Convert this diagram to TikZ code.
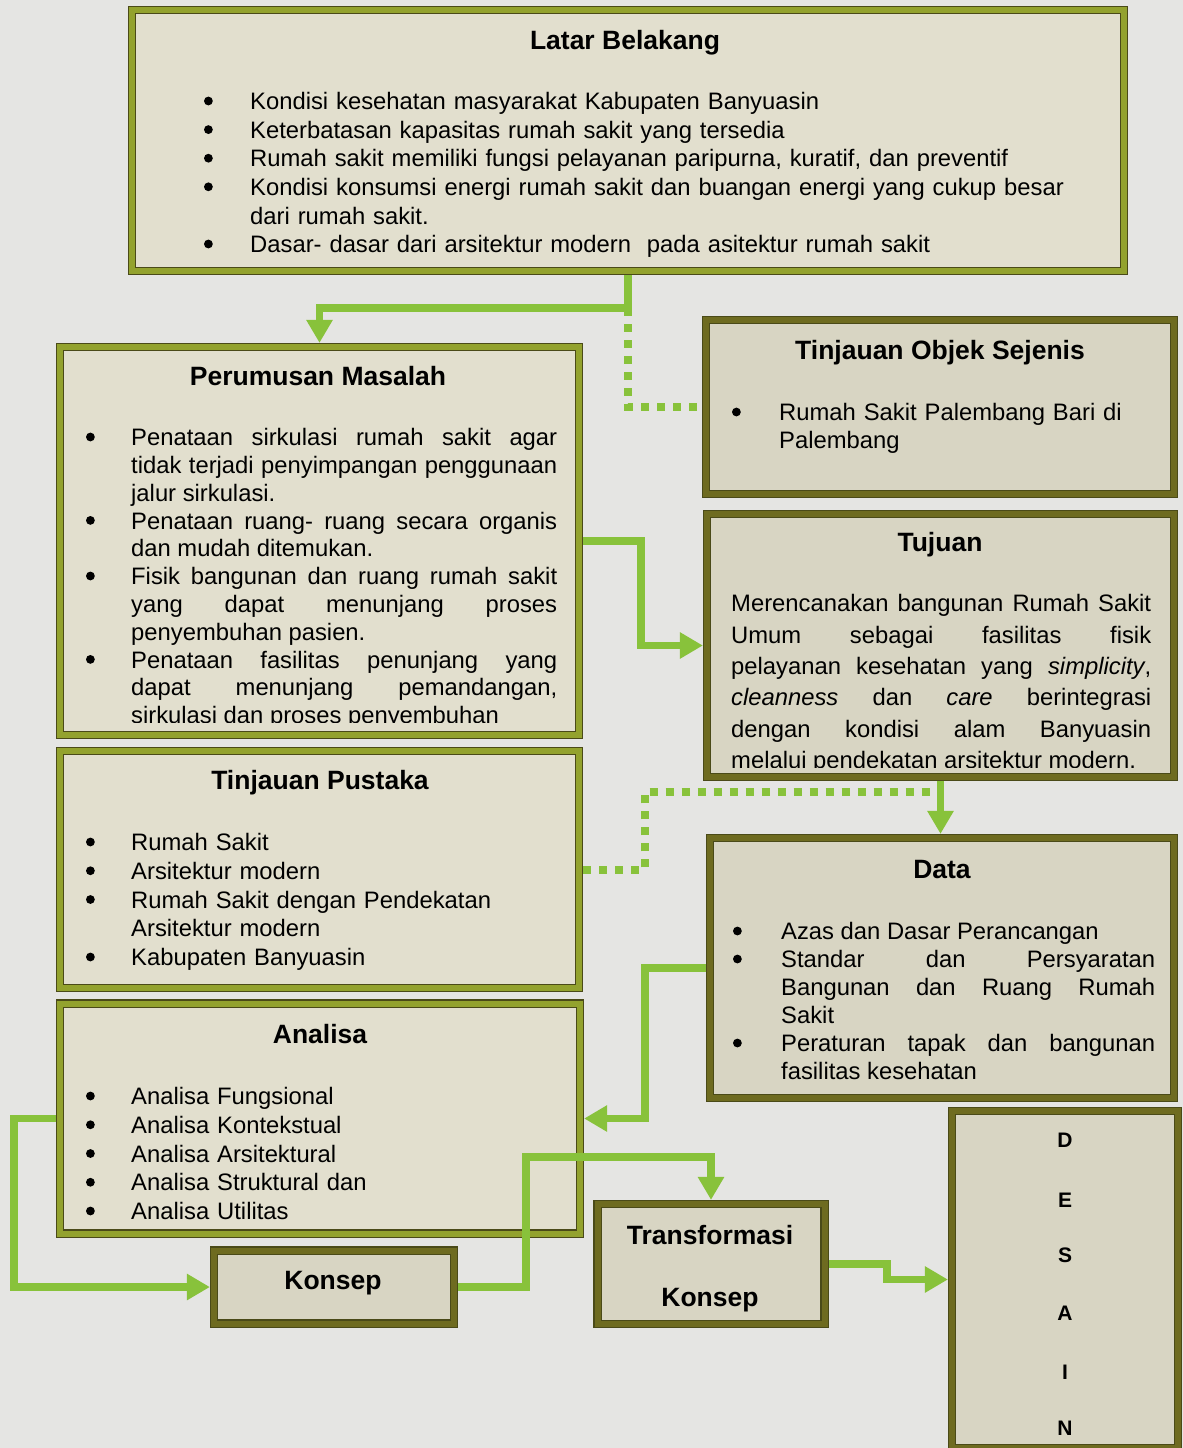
\documentclass[tikz,border=0pt]{standalone}
\usepackage{fontspec}
\setmainfont{Liberation Sans}
\usetikzlibrary{arrows.meta,calc}
\definecolor{bg}{HTML}{E5E5E3}
\definecolor{fillL}{HTML}{E2DFCE}
\definecolor{fillR}{HTML}{D8D5C3}
\definecolor{bandL}{HTML}{93A22E}
\definecolor{bandR}{HTML}{6E6B20}
\definecolor{edgeD}{HTML}{4A4A18}
\definecolor{lnk}{HTML}{88C23B}
\newcommand{\bdot}{\raisebox{8.6pt}{\tikz[baseline=0pt,x=1pt,y=1pt]\fill[black] (0,0) circle (4.4pt);}}
\newcommand{\bitem}[2]{\noindent\hangindent=#1\hangafter=1\makebox[#1][l]{\bdot}#2\par}
\tikzset{
  boxL/.style={draw=edgeD, line width=1.1pt, double=bandL, double distance=6pt, fill=fillL, outer sep=4.1pt, inner sep=0pt},
  boxR/.style={draw=edgeD, line width=1.1pt, double=bandR, double distance=6pt, fill=fillR, outer sep=4.1pt, inner sep=0pt},
  ttl/.style={anchor=base, inner sep=0pt, font=\bfseries\fontsize{26.5}{30}\selectfont},
  dsn/.style={anchor=base, inner sep=0pt, font=\bfseries\fontsize{21}{24}\selectfont},
  body/.style={anchor=base west, inner sep=0pt},
  conn/.style={draw=lnk, line width=7.5pt, -{Triangle[length=23pt,width=25pt]}},
  dotc/.style={draw=lnk, line width=8pt, dash pattern=on 8pt off 8pt}
}
\begin{document}
\begin{tikzpicture}[x=1pt,y=-1pt]
\useasboundingbox (0,0) rectangle (1183,1448);
\fill[bg] (0,0) rectangle (1183,1448);

% boxes
\node[boxL, minimum width=992pt, minimum height=261pt] (lat) at (628,140.5) {};
\node[boxL, minimum width=519pt, minimum height=388pt] (per) at (319.5,541) {};
\node[boxR, minimum width=468pt, minimum height=174pt] (tob) at (940,407) {};
\node[boxR, minimum width=467pt, minimum height=263pt] (tuj) at (940.5,645.5) {};
\node[boxL, minimum width=519pt, minimum height=237pt] (pus) at (319.5,869.5) {};
\node[boxR, minimum width=464pt, minimum height=260pt] (dat) at (942,968) {};
\node[boxL, minimum width=520pt, minimum height=230pt] (ana) at (320,1118.5) {};
\node[boxR, minimum width=240pt, minimum height=73pt] (kon) at (334,1287) {};
\node[boxR, minimum width=227pt, minimum height=120pt] (tra) at (711,1264) {};
\node[boxR, minimum width=226pt, minimum height=337pt] (des) at (1065,1279.5) {};

% Latar Belakang
\node[ttl] (latT) at (625,49.5) {Latar Belakang};
\node[body, text width=910pt, align=left, font=\fontsize{23.8}{28.6}\selectfont] (latB) at (203.8,109.6) {%
\bitem{46.2pt}{Kondisi kesehatan masyarakat Kabupaten Banyuasin}%
\bitem{46.2pt}{Keterbatasan kapasitas rumah sakit yang tersedia}%
\bitem{46.2pt}{Rumah sakit memiliki fungsi pelayanan paripurna, kuratif, dan preventif}%
\bitem{46.2pt}{Kondisi konsumsi energi rumah sakit dan buangan energi yang cukup besar\newline dari rumah sakit.}%
\bitem{46.2pt}{Dasar- dasar dari arsitektur modern\ \ pada asitektur rumah sakit}};

% Perumusan Masalah
\node[ttl] (perT) at (318,385.5) {Perumusan Masalah};
\begin{scope}
\clip (60,400) rectangle (580,722);
\node[body, text width=471.2pt, align=justify, font=\fontsize{23.8}{27.8}\selectfont] (perB) at (85.8,445.6) {%
\bitem{45.2pt}{Penataan sirkulasi rumah sakit agar\linebreak tidak terjadi penyimpangan penggunaan\linebreak jalur sirkulasi.}%
\bitem{45.2pt}{Penataan ruang- ruang secara organis\linebreak dan mudah ditemukan.}%
\bitem{45.2pt}{Fisik bangunan dan ruang rumah sakit\linebreak yang dapat menunjang proses\linebreak penyembuhan pasien.}%
\bitem{45.2pt}{Penataan fasilitas penunjang yang\linebreak dapat menunjang pemandangan,\linebreak sirkulasi dan proses penyembuhan}};
\end{scope}

% Tinjauan Objek Sejenis
\node[ttl] (tobT) at (940,359.5) {Tinjauan Objek Sejenis};
\node[body, text width=420pt, align=left, font=\fontsize{23.8}{28}\selectfont] (tobB) at (731.8,420.6) {%
\bitem{47.2pt}{Rumah Sakit Palembang Bari di\newline Palembang}};

% Tujuan
\node[ttl] (tujT) at (940,551.5) {Tujuan};
\begin{scope}
\clip (710,560) rectangle (1172,767);
\node[body, text width=420pt, align=justify, font=\fontsize{23.8}{31.4}\selectfont] (tujB) at (731,611.6) {%
Merencanakan bangunan Rumah Sakit\linebreak Umum sebagai fasilitas fisik\linebreak pelayanan kesehatan yang \textit{simplicity},\linebreak \textit{cleanness} dan \textit{care} berintegrasi\linebreak dengan kondisi alam Banyuasin\linebreak melalui pendekatan arsitektur modern.};
\end{scope}

% Tinjauan Pustaka
\node[ttl] (pusT) at (320,789.5) {Tinjauan Pustaka};
\node[body, text width=470pt, align=left, font=\fontsize{23.8}{28.75}\selectfont] (pusB) at (85.8,850.6) {%
\bitem{45.2pt}{Rumah Sakit}%
\bitem{45.2pt}{Arsitektur modern}%
\bitem{45.2pt}{Rumah Sakit dengan Pendekatan\newline Arsitektur modern}%
\bitem{45.2pt}{Kabupaten Banyuasin}};

% Data
\node[ttl] (datT) at (942,878.5) {Data};
\node[body, text width=422.2pt, align=justify, font=\fontsize{23.8}{28}\selectfont] (datB) at (732.8,939.6) {%
\bitem{48.2pt}{Azas dan Dasar Perancangan}%
\bitem{48.2pt}{Standar dan Persyaratan\linebreak Bangunan dan Ruang Rumah\linebreak Sakit}%
\bitem{48.2pt}{Peraturan tapak dan bangunan\linebreak fasilitas kesehatan}};

% Analisa
\node[ttl] (anaT) at (320,1043.5) {Analisa};
\node[body, text width=470pt, align=left, font=\fontsize{23.8}{28.75}\selectfont] (anaB) at (85.8,1104.6) {%
\bitem{45.2pt}{Analisa Fungsional}%
\bitem{45.2pt}{Analisa Kontekstual}%
\bitem{45.2pt}{Analisa Arsitektural}%
\bitem{45.2pt}{Analisa Struktural dan}%
\bitem{45.2pt}{Analisa Utilitas}};

% Konsep, Transformasi
\node[ttl] (konT) at (333,1289.5) {Konsep};
\node[ttl] (traT1) at (710,1244.5) {Transformasi};
\node[ttl] (traT2) at (710,1306.5) {Konsep};

% Desain
\node[dsn] (d1) at (1065,1147.5) {D};
\node[dsn] (d2) at (1065,1207.5) {E};
\node[dsn] (d3) at (1065,1262.5) {S};
\node[dsn] (d4) at (1065,1320.5) {A};
\node[dsn] (d5) at (1065,1379.5) {I};
\node[dsn] (d6) at (1065,1435.5) {N};

% connectors
\coordinate (j1) at ($(lat.south)+(0,33)$);
\coordinate (j2) at (940.5,792);
\draw[dotc] (j1) |- (tob.west);
\draw[conn] (lat.south) -- (j1) -| (per.north);
\draw[conn] (per.east) -- ++(58,0) |- (tuj.west);
\draw[dotc] (pus.east) -| (645,792) -- (j2);
\draw[conn] (tuj.south) -- (tuj.south |- dat.north);
\draw[conn] (dat.west) -- ++(-61,0) |- (ana.east);
\draw[conn] (ana.west) -- ++(-42,0) |- (kon.west);
\draw[conn] (kon.east) -| (526,1157) -| (tra.north);
\draw[conn] (tra.east) -| (887,1279.5) -- (des.west);
\end{tikzpicture}
\end{document}
